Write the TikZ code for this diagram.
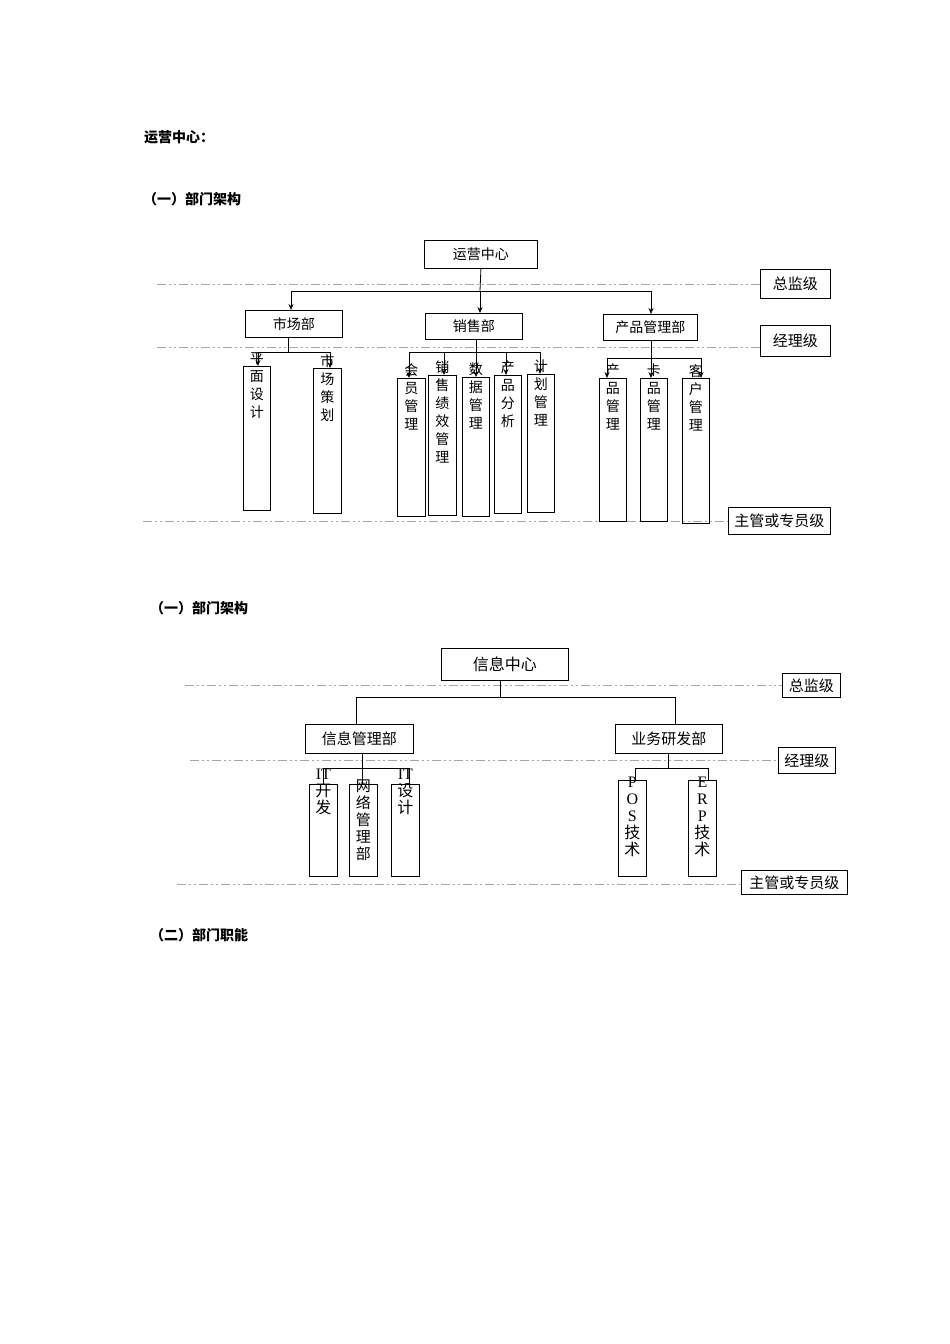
\documentclass[tikz,border=0pt]{standalone}
\usepackage{fontspec}
\setmainfont{Noto Sans CJK SC}
\newfontfamily\lat{Liberation Serif}
\usetikzlibrary{arrows.meta}
\begin{document}
\begin{tikzpicture}[x=1pt,y=-1pt,
  box/.style={draw,thick,anchor=north west,inner sep=0pt},
  vtxt/.style={anchor=north,align=center,font=\fontsize{14}{18}\selectfont,inner sep=0pt},
  lvl/.style={draw=gray!70,dash pattern=on 9pt off 3pt on 2pt off 3pt on 2pt off 3pt},
  arr/.style={-{Stealth[length=6pt,width=5pt]},thick},
  con/.style={thin},
  head/.style={anchor=west,font=\fontsize{14}{16}\selectfont\bfseries,inner sep=0pt}]
\useasboundingbox (0,0) rectangle (950,1344);
\fill[white] (0,0) rectangle (950,1344);
% headings
\node[head] (h1) at (144,137) {运营中心：};
\node[head] (h2) at (143,199) {（一）部门架构};
\node[head] (h3) at (150,608) {（一）部门架构};
\node[head] (h4) at (150,935) {（二）部门职能};

% ===== top diagram =====
\node[box,minimum width=113,minimum height=28,font=\fontsize{14}{16}\selectfont] (yy) at (424,240) {运营中心};
\draw[lvl] (157,284) -- (760,284);
\node[box,minimum width=70,minimum height=29,font=\fontsize{15}{16}\selectfont] (l1) at (760,269) {总监级};
\draw[lvl] (157,347) -- (760,347);
\node[box,minimum width=70,minimum height=31,font=\fontsize{15}{16}\selectfont] (l2) at (760,325) {经理级};
\draw[lvl] (143,521) -- (728,521);
\node[box,minimum width=102,minimum height=27,font=\fontsize{15}{16}\selectfont] (l3) at (728,507) {主管或专员级};

\node[box,minimum width=97,minimum height=27,font=\fontsize{14}{16}\selectfont] (sc) at (245,310) {市场部};
\node[box,minimum width=97,minimum height=26,font=\fontsize{14}{16}\selectfont] (xs) at (425,313) {销售部};
\node[box,minimum width=94,minimum height=26,font=\fontsize{14}{16}\selectfont] (cp) at (603,314) {产品管理部};

\coordinate (b0) at (480,291);
\coordinate (bl) at (291,291);
\coordinate (br) at (651,291);
\draw[thick] (yy.south) -- (b0);
\draw[con] (bl) -- (br);
\draw[arr] (bl) -- (bl|-sc.north);
\draw[arr] (b0) -- (b0|-xs.north);
\draw[arr] (br) -- (br|-cp.north);

% leaf boxes top
\newcommand\leaf[6]{%
  \node[box,minimum width=#4,minimum height=#5] (#1) at (#2,#3) {};
  \node[vtxt] (#1t) at ([yshift=14]#1.north) {#6};}
\leaf{a1}{243}{366}{27}{144}{平\\面\\设\\计}
\leaf{a2}{313}{368}{28}{145}{市\\场\\策\\划}
\leaf{c1}{397}{378}{28}{138}{会\\员\\管\\理}
\leaf{c2}{428}{375}{28}{140}{销\\售\\绩\\效\\管\\理}
\leaf{c3}{462}{377}{27}{139}{数\\据\\管\\理}
\leaf{c4}{494}{375}{27}{138}{产\\品\\分\\析}
\leaf{c5}{527}{374}{27}{138}{计\\划\\管\\理}
\leaf{p1}{599}{378}{27}{143}{产\\品\\管\\理}
\leaf{p2}{640}{378}{27}{143}{卡\\品\\管\\理}
\leaf{p3}{682}{378}{27}{145}{客\\户\\管\\理}

\coordinate (sj) at (288,352);
\coordinate (sl) at (258,352);
\coordinate (sr) at (330,352);
\draw[con] (sc.south-|sj) -- (sj);
\draw[con] (sl) -- (sr);
\draw[arr] (sl) -- (sl|-a1.north);
\draw[arr] (sr) -- (sr|-a2.north);

\coordinate (xj) at (476,352);
\coordinate (xl) at (409,352);
\coordinate (xr) at (540,352);
\draw[con] (xs.south-|xj) -- (xj);
\draw[con] (xl) -- (xr);
\foreach \n/\x in {c1/409,c2/444,c3/476,c4/506,c5/540}
  \draw[arr] (\x,352) -- (\x,0|-\n.north);

\coordinate (pj) at (651,358);
\coordinate (pl) at (607,358);
\coordinate (pr) at (701,358);
\draw[thick] (cp.south-|pj) -- (pj);
\draw[thick] (pl) -- (pr);
\draw[arr] (pl) -- (pl|-p1.north);
\draw[arr] (pj) -- (pj|-p2.north);
\draw[arr] (pr) -- (pr|-p3.north);

% ===== bottom diagram =====
\node[box,minimum width=127,minimum height=32,font=\fontsize{16}{18}\selectfont] (xx) at (441,648) {信息中心};
\draw[lvl] (185,685) -- (782,685);
\node[box,minimum width=58,minimum height=24,font=\fontsize{15}{16}\selectfont] (m1) at (782,673) {总监级};
\draw[lvl] (190,760) -- (778,760);
\node[box,minimum width=57,minimum height=26,font=\fontsize{15}{16}\selectfont] (m2) at (778,747) {经理级};
\draw[lvl] (177,884) -- (741,884);
\node[box,minimum width=106,minimum height=24,font=\fontsize{15}{16}\selectfont] (m3) at (741,870) {主管或专员级};

\node[box,minimum width=108,minimum height=29,font=\fontsize{15}{16}\selectfont] (xg) at (305,724) {信息管理部};
\node[box,minimum width=107,minimum height=29,font=\fontsize{15}{16}\selectfont] (yw) at (615,724) {业务研发部};
\coordinate (d0) at (500,697);
\coordinate (dl) at (356,697);
\coordinate (dr) at (675,697);
\draw[con] (xx.south-|d0) -- (d0);
\draw[con] (dl) -- (dr);
\draw[con] (dl) -- (dl|-xg.north);
\draw[con] (dr) -- (dr|-yw.north);

\newcommand\bleaf[6]{%
  \node[box,minimum width=#4,minimum height=#5] (#1) at (#2,#3) {};
  \node[vtxt,font=\fontsize{16}{18}\selectfont] (#1t) at ([yshift=#6]#1.north) {};}
\node[box,minimum width=28,minimum height=92] (e1) at (309,784) {};
\node[box,minimum width=28,minimum height=92] (e2) at (349,784) {};
\node[box,minimum width=28,minimum height=92] (e3) at (391,784) {};
\node[box,minimum width=28,minimum height=96] (f1) at (618,780) {};
\node[box,minimum width=28,minimum height=96] (f2) at (688,780) {};
\node[vtxt,font=\fontsize{16}{17}\selectfont] (e1t) at ([yshift=15]e1.north) {{\lat IT}\\开\\发};
\node[vtxt,font=\fontsize{15}{17}\selectfont] (e2t) at ([yshift=4]e2.north) {网\\络\\管\\理\\部};
\node[vtxt,font=\fontsize{16}{17}\selectfont] (e3t) at ([yshift=15]e3.north) {{\lat IT}\\设\\计};
\node[vtxt,font=\fontsize{16}{17}\selectfont] (f1t) at ([yshift=3]f1.north) {{\lat P}\\{\lat O}\\{\lat S}\\技\\术};
\node[vtxt,font=\fontsize{16}{17}\selectfont] (f2t) at ([yshift=3]f2.north) {{\lat E}\\{\lat R}\\{\lat P}\\技\\术};

\coordinate (gj) at (362,768);
\coordinate (gl) at (323,768);
\coordinate (gr) at (409,768);
\draw[con] (xg.south-|gj) -- (gj|-e2.north);
\draw[thick] (gl) -- (gr);
\draw[con] (gl) -- (gl|-e1.north);
\draw[con] (gr) -- (gr|-e3.north);

\coordinate (wj) at (668,768);
\coordinate (wl) at (635,768);
\coordinate (wr) at (708,768);
\draw[con] (yw.south-|wj) -- (wj);
\draw[con] (wl) -- (wr);
\draw[con] (wl) -- (wl|-f1.north);
\draw[con] (wr) -- (wr|-f2.north);
\end{tikzpicture}
\end{document}
